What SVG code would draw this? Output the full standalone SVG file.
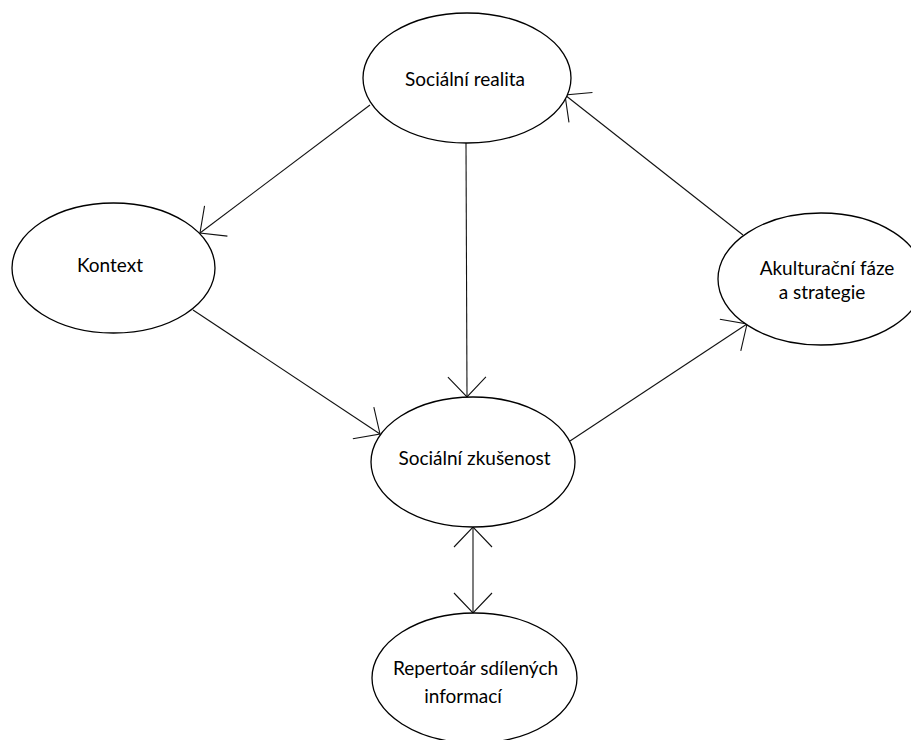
<svg xmlns="http://www.w3.org/2000/svg" width="911" height="740" viewBox="0 0 911 740">
<style>
.node ellipse{fill:#fff;stroke:#000;stroke-width:1.3}
.node text{font-family:Lato,"Liberation Sans",sans-serif;font-size:19px;fill:#000;text-anchor:middle}
.conn line{stroke:#111;stroke-width:1.1;fill:none}
</style>
<defs>
<marker id="ah" markerUnits="userSpaceOnUse" viewBox="-30 -25 34 50" refX="0" refY="0" markerWidth="34" markerHeight="50" orient="auto-start-reverse">
<path d="M-20,-19 L0,0 L-20,19" fill="none" stroke="#111" stroke-width="1.1"/>
</marker>
</defs>
<rect width="911" height="740" fill="#fff"/>
<g id="connectors" class="conn">
<line x1="370" y1="105" x2="200" y2="233" marker-end="url(#ah)"/>
<line x1="193" y1="310" x2="380" y2="434" marker-end="url(#ah)"/>
<line x1="466" y1="143" x2="467" y2="397" marker-end="url(#ah)"/>
<line x1="570" y1="441" x2="747" y2="324" marker-end="url(#ah)"/>
<line x1="743" y1="235" x2="565" y2="95" marker-end="url(#ah)"/>
<line x1="473" y1="527" x2="473" y2="613" marker-start="url(#ah)" marker-end="url(#ah)"/>
</g>
<g id="socialni-realita" class="node">
<ellipse cx="467" cy="78" rx="104" ry="65"/>
<text x="465" y="86">Sociální realita</text>
</g>
<g id="kontext" class="node">
<ellipse cx="113.5" cy="268" rx="101.5" ry="65"/>
<text x="110" y="272">Kontext</text>
</g>
<g id="akulturacni-faze" class="node">
<ellipse cx="821" cy="279" rx="103" ry="66"/>
<text x="827" y="275">Akulturační fáze</text>
<text x="822" y="299">a strategie</text>
</g>
<g id="socialni-zkusenost" class="node">
<ellipse cx="473" cy="462" rx="102" ry="65"/>
<text x="474.5" y="465">Sociální zkušenost</text>
</g>
<g id="repertoar" class="node">
<ellipse cx="474.5" cy="678" rx="102.5" ry="65"/>
<text x="475.5" y="675">Repertoár sdílených</text>
<text x="463" y="703">informací</text>
</g>
</svg>
